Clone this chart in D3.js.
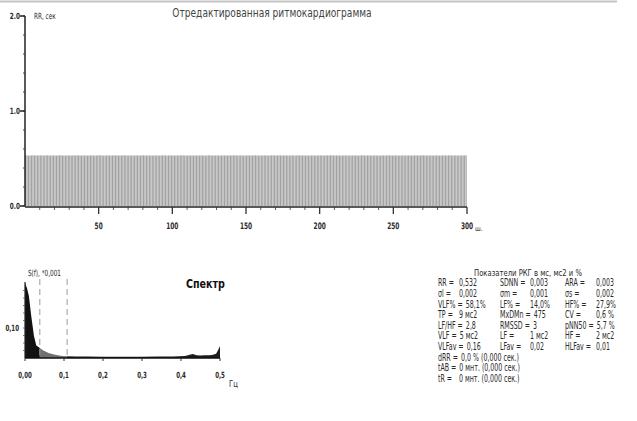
<!DOCTYPE html>
<html>
<head>
<meta charset="utf-8">
<script src="https://cdn.jsdelivr.net/npm/d3@7"></script>
<style>
  body { margin: 0; background: #fff; }
  svg { display: block; font-family: "DejaVu Sans Condensed", "Liberation Sans Narrow", "Roboto", sans-serif; }
  .lbl { fill: #2a2a2a; font-size: 9px; }
</style>
</head>
<body>
<script>
// RR intervals, ms (300 beats)
const rrMs = [
  532,533,532,531,532,534,533,532,531,532,533,532,532,531,533,534,532,531,532,533,
  532,531,532,533,534,532,531,532,532,533,532,531,533,532,532,534,533,532,531,532,
  533,532,531,532,533,532,532,531,532,533,534,533,532,531,532,532,533,532,531,532,
  532,533,532,532,531,532,533,534,532,531,532,533,532,531,532,533,532,532,531,533,
  534,532,531,532,533,532,532,531,532,533,532,531,532,534,533,532,531,532,533,532,
  532,531,532,533,532,532,534,533,532,531,532,533,532,531,532,533,532,531,532,533,
  533,532,531,532,534,533,532,532,531,532,533,532,531,532,533,532,532,531,533,532,
  532,533,534,532,531,532,533,532,532,531,532,533,532,531,532,534,533,532,531,532,
  531,532,533,532,532,531,532,533,534,532,531,532,533,532,531,532,533,532,532,531,
  532,533,532,531,532,534,533,532,532,531,532,533,532,531,532,533,532,531,532,533,
  533,532,531,532,533,532,532,534,533,532,531,532,533,532,531,532,532,533,532,531,
  532,531,532,533,532,532,531,532,533,534,532,531,532,533,532,531,532,533,532,532,
  531,532,533,532,531,532,534,533,532,531,532,533,532,532,531,532,533,532,531,532,
  533,532,532,531,532,533,532,531,532,534,533,532,531,532,533,532,532,531,532,533,
  532,531,532,533,532,532,531,533,534,532,531,532,533,532,531,532,533,532,532,533
];
const rrTicks = [0, 1, 2];
const rrTickLabels = ['0.0', '1.0', '2.0'];
const beatTicks = [50, 100, 150, 200, 250, 300];

// spectrum S(f), *0.001
const specFreq  = [0, 0.005, 0.01, 0.016, 0.023, 0.029, 0.038,
                   0.046, 0.055, 0.062, 0.07, 0.077, 0.085, 0.095, 0.108,
                   0.13, 0.16, 0.2, 0.25, 0.3, 0.34, 0.38, 0.41, 0.42, 0.43, 0.44, 0.45,
                   0.46, 0.47, 0.48, 0.49, 0.495, 0.5];
const specPower = [0.25, 0.233, 0.207, 0.14, 0.073, 0.042, 0.033,
                   0.026, 0.02, 0.016, 0.013, 0.011, 0.009, 0.007, 0.006,
                   0.005, 0.005, 0.004, 0.004, 0.004, 0.005, 0.005, 0.007, 0.01, 0.013, 0.009, 0.008,
                   0.009, 0.009, 0.01, 0.014, 0.026, 0.04];
const bandEdges = [0.038, 0.108];
const specTicks = [0, 0.1, 0.2, 0.3, 0.4, 0.5];
const specTickLabels = ['0,00', '0,1', '0,2', '0,3', '0,4', '0,5'];

// stats table
const statsTitle = 'Показатели РКГ в мс, мс2 и %';
const statRows = [
  [['RR =', '0,532'], ['SDNN =', '0,003'], ['ARA =', '0,003']],
  [['σl =', '0,002'], ['σm =', '0,001'], ['σs =', '0,002']],
  [['VLF% =', '58,1%'], ['LF% =', '14,0%'], ['HF% =', '27,9%']],
  [['TP =', '9 мс2'], ['MxDMn =', '475'], ['CV =', '0,6 %']],
  [['LF/HF =', '2,8'], ['RMSSD =', '3'], ['pNN50 =', '5,7 %']],
  [['VLF =', '5 мс2'], ['LF =', '1 мс2'], ['HF =', '2 мс2']],
  [['VLFav =', '0,16'], ['LFav =', '0,02'], ['HLFav =', '0,01']],
  [['dRR =', '0,0 % (0,000 сек.)']],
  [['tAB =', '0 мнт. (0,000 сек.)']],
  [['tR =', '0 мнт. (0,000 сек.)']]
];

let svg = d3.select('body').append('svg')
    .attr('width', 637)
    .attr('height', 421);

// squeeze text horizontally around its anchor x (narrow font look)
function squeeze(sel, k) {
    sel.attr('transform', function() {
        let ax = +d3.select(this).attr('x');
        return `translate(${ax},0) scale(${k},1) translate(${-ax},0)`;
    });
    return sel;
}

// frame line on top
svg.append('line')
    .attr('x1', 0).attr('x2', 617)
    .attr('y1', 1.5).attr('y2', 1.5)
    .style('stroke', '#c4c4c4')
    .style('stroke-width', 2);

// ---------- rhythmogram ----------
let x = d3.scaleLinear().domain([0, 300]).range([25, 467]);
let y = d3.scaleLinear().domain([0, 2]).range([206, 16]);

let g1 = svg.append('g');

g1.selectAll('.bar')
    .data(rrMs)
    .enter().append('rect')
    .attr('class', 'bar')
    .attr('x', (d, i) => x(i))
    .attr('width', (x(1) - x(0)) - 0.3)
    .attr('y', d => y(d / 1000))
    .attr('height', d => y(0) - y(d / 1000))
    .attr('fill', '#a2a2a2');

// y axis
g1.append('line')
    .attr('x1', x(0)).attr('x2', x(0))
    .attr('y1', y(0)).attr('y2', y(2))
    .style('stroke', '#222').style('stroke-width', 1.5);
g1.selectAll('.ymin')
    .data(d3.range(0, 2.01, 0.2))
    .enter().append('line')
    .attr('x1', x(0) - 2).attr('x2', x(0))
    .attr('y1', d => y(d)).attr('y2', d => y(d))
    .style('stroke', '#444');
g1.selectAll('.ymaj')
    .data(rrTicks)
    .enter().append('line')
    .attr('x1', x(0) - 5).attr('x2', x(0))
    .attr('y1', d => y(d)).attr('y2', d => y(d))
    .style('stroke', '#222').style('stroke-width', 1.5);
squeeze(g1.selectAll('.ylab')
    .data(rrTicks)
    .enter().append('text')
    .attr('class', 'lbl')
    .attr('x', x(0) - 5)
    .attr('y', d => y(d) + 3)
    .attr('text-anchor', 'end')
    .style('font-size', '8.5px')
    .style('font-weight', 'bold')
    .text((d, i) => rrTickLabels[i]), 0.75);
squeeze(g1.append('text')
    .attr('class', 'lbl')
    .attr('x', 34).attr('y', 19)
    .style('font-size', '8.5px')
    .text('RR, сек'), 0.75);

// x axis
g1.append('line')
    .attr('x1', x(0)).attr('x2', x(300))
    .attr('y1', 207).attr('y2', 207)
    .style('stroke', '#222').style('stroke-width', 1.5);
g1.selectAll('.xmin')
    .data(d3.range(10, 301, 10))
    .enter().append('line')
    .attr('x1', d => x(d)).attr('x2', d => x(d))
    .attr('y1', 207).attr('y2', d => d % 50 === 0 ? 214 : 210)
    .style('stroke', '#333')
    .style('stroke-width', d => d % 50 === 0 ? 1.3 : 0.8);
squeeze(g1.selectAll('.xlab')
    .data(beatTicks)
    .enter().append('text')
    .attr('class', 'lbl')
    .attr('x', d => x(d))
    .attr('y', 229)
    .attr('text-anchor', 'middle')
    .style('font-size', '9px')
    .style('font-weight', 'bold')
    .text(d => d), 0.72);
g1.append('text')
    .attr('class', 'lbl')
    .attr('x', x(300) + 8).attr('y', 231)
    .style('font-size', '7px')
    .text('ш.');

squeeze(g1.append('text')
    .attr('x', 272).attr('y', 17)
    .attr('text-anchor', 'middle')
    .style('font-size', '12px')
    .style('fill', '#444')
    .text('Отредактированная ритмокардиограмма'), 0.84);

// ---------- spectrum ----------
let sx = d3.scaleLinear().domain([0, 0.5]).range([25, 220]);
let sy = d3.scaleLinear().domain([0, 0.25]).range([358, 283]);
let spec = specFreq.map((f, i) => ({f: f, p: specPower[i]}));

let g2 = svg.append('g');
let area = d3.area()
    .x(d => sx(d.f))
    .y0(sy(0))
    .y1(d => sy(d.p));

let bands = [
    {lo: 0, hi: bandEdges[0], color: '#121212'},
    {lo: bandEdges[0], hi: bandEdges[1], color: '#707070'},
    {lo: bandEdges[1], hi: 0.5, color: '#1c1c1c'}
];
bands.forEach(b => {
    g2.append('path')
        .datum(spec.filter(d => d.f >= b.lo && d.f <= b.hi))
        .attr('d', area)
        .attr('fill', b.color);
});

g2.selectAll('.dash')
    .data(bandEdges)
    .enter().append('line')
    .attr('x1', d => sx(d)).attr('x2', d => sx(d))
    .attr('y1', 279).attr('y2', sy(0))
    .style('stroke', '#9a9a9a')
    .style('stroke-width', 1)
    .style('stroke-dasharray', '6,4');

// axes
g2.append('line')
    .attr('x1', sx(0)).attr('x2', sx(0))
    .attr('y1', sy(0)).attr('y2', 282)
    .style('stroke', '#222').style('stroke-width', 1.2);
g2.selectAll('.symin')
    .data(d3.range(0.025, 0.25, 0.025))
    .enter().append('line')
    .attr('x1', sx(0) - 2).attr('x2', sx(0))
    .attr('y1', d => sy(d)).attr('y2', d => sy(d))
    .style('stroke', '#555').style('stroke-width', 0.8);
squeeze(g2.append('text')
    .attr('class', 'lbl')
    .attr('x', sx(0) - 6).attr('y', sy(0.1) + 3)
    .attr('text-anchor', 'end')
    .style('font-size', '8.5px')
    .style('font-weight', 'bold')
    .text('0,10'), 0.72);
g2.append('line')
    .attr('x1', sx(0)).attr('x2', sx(0.5))
    .attr('y1', sy(0)).attr('y2', sy(0))
    .style('stroke', '#111').style('stroke-width', 1.6);
g2.selectAll('.sxt')
    .data(specTicks)
    .enter().append('line')
    .attr('x1', d => sx(d)).attr('x2', d => sx(d))
    .attr('y1', sy(0)).attr('y2', sy(0) + 3)
    .style('stroke', '#333');
squeeze(g2.selectAll('.sxl')
    .data(specTicks)
    .enter().append('text')
    .attr('class', 'lbl')
    .attr('x', d => sx(d))
    .attr('y', 378)
    .attr('text-anchor', 'middle')
    .style('font-size', '8.5px')
    .style('font-weight', 'bold')
    .text((d, i) => specTickLabels[i]), 0.72);
squeeze(g2.append('text')
    .attr('class', 'lbl')
    .attr('x', 229).attr('y', 387)
    .style('font-size', '9.5px')
    .text('Гц'), 0.8);
squeeze(g2.append('text')
    .attr('class', 'lbl')
    .attr('x', 28).attr('y', 276)
    .style('font-size', '8.5px')
    .text('S(f), *0,001'), 0.75);
squeeze(g2.append('text')
    .attr('x', 186).attr('y', 288)
    .style('font-size', '12.5px')
    .style('font-weight', 'bold')
    .style('fill', '#111')
    .text('Спектр'), 0.85);

// ---------- stats table ----------
let k = 0.7;
let colLabelX = [438, 500, 565];
let colValueX = [459, 530, 596];
let g3 = svg.append('g');
squeeze(g3.append('text')
    .attr('class', 'lbl')
    .attr('x', 528).attr('y', 276)
    .attr('text-anchor', 'middle')
    .style('font-size', '9.5px')
    .text(statsTitle), 0.8);

statRows.forEach((row, r) => {
    let yy = 286.5 + r * 10.6;
    row.forEach((cell, c) => {
        let t = squeeze(g3.append('text')
            .attr('class', 'lbl')
            .attr('x', colLabelX[c]).attr('y', yy)
            .style('font-size', '10px')
            .text(cell[0]), k);
        let end = colLabelX[c] + t.node().getComputedTextLength() * k + 3;
        squeeze(g3.append('text')
            .attr('class', 'lbl')
            .attr('x', Math.max(colValueX[c], end)).attr('y', yy)
            .style('font-size', '10px')
            .text(cell[1]), k);
    });
});
</script>
</body>
</html>
